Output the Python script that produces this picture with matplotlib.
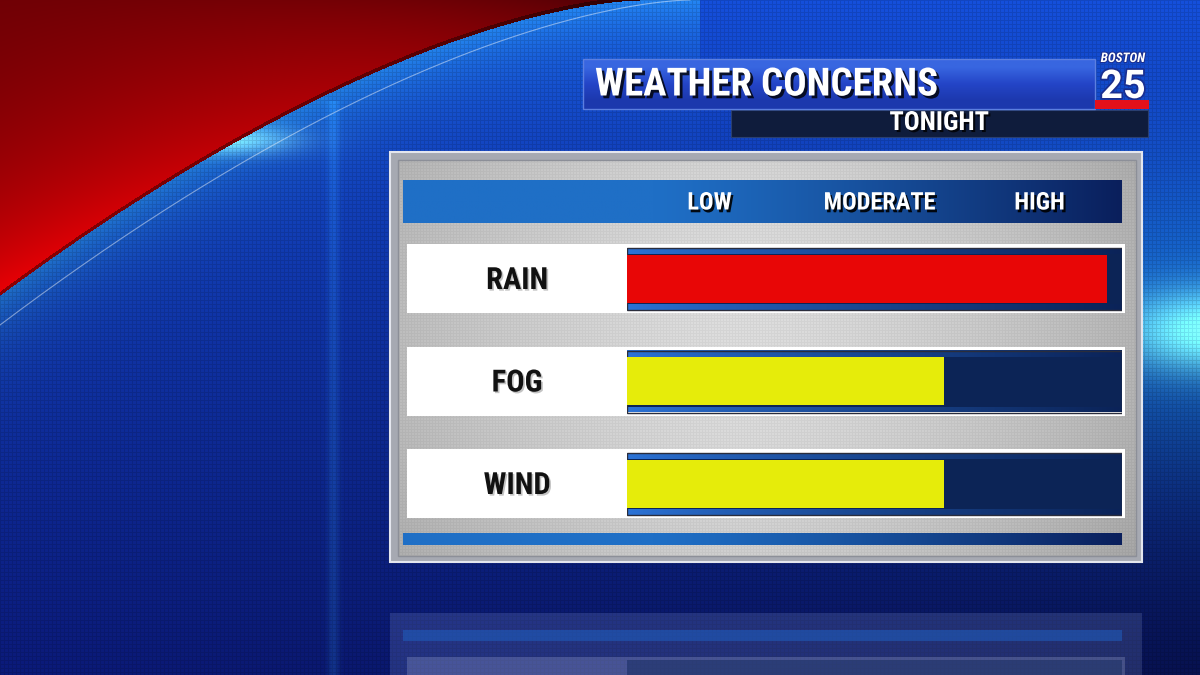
import numpy as np
import matplotlib.pyplot as plt
import matplotlib.colors as mcolors
import matplotlib.patheffects as pe
from matplotlib.patches import Rectangle
from matplotlib.transforms import blended_transform_factory

W, H = 1200, 675

TITLE = "WEATHER CONCERNS"
SUBTITLE = "TONIGHT"
LEVELS = ["LOW", "MODERATE", "HIGH"]
CATEGORIES = ["RAIN", "FOG", "WIND"]
VALUES = [97, 64, 64]          # concern, in % of the LOW..HIGH scale
COLORS = ["#e80606", "#e6ec0a", "#e6ec0a"]

FONT = ["Roboto Condensed", "Barlow Condensed", "Liberation Sans Narrow", "DejaVu Sans"]


def rgb(c):
    return np.array(mcolors.to_rgb(c))


def h_gradient(c0, c1, start=0.0, power=1.0, n=300):
    u = np.linspace(0, 1, n)
    s = np.clip((u - start) / (1 - start), 0, 1) ** power
    img = rgb(c0)[None, :] * (1 - s[:, None]) + rgb(c1)[None, :] * s[:, None]
    return img[None, :, :]


def background():
    yy, xx = np.mgrid[0:H, 0:W].astype(float)
    t = yy / H
    img = np.zeros((H, W, 3))
    img[..., 0] = 0.08 - 0.03 * t
    img[..., 1] = 0.31 - 0.19 * t
    img[..., 2] = 0.86 - 0.30 * t
    # darker towards lower right and lower left
    img *= (1 - 0.45 * (xx / W) * t)[..., None]
    img *= (1 - 0.15 * (1 - xx / W) * t)[..., None]

    # cyan glow on the right edge
    glow = np.exp(-((xx - 1215) ** 2 / (2 * 65 ** 2) + (yy - 330) ** 2 / (2 * 28 ** 2)))
    wide = np.exp(-((xx - 1200) ** 2 / (2 * 220 ** 2) + (yy - 320) ** 2 / (2 * 110 ** 2)))
    img += glow[..., None] * np.array([0.45, 0.7, 0.35])
    img += wide[..., None] * np.array([0.03, 0.22, 0.2])

    # faint vertical streak
    streak = np.exp(-((xx - 333) ** 2) / (2 * 4 ** 2)) * (yy > 100)
    img += streak[..., None] * np.array([0.03, 0.1, 0.1])

    # red swoosh in the top left corner
    u = np.clip(1 - xx / 640, 0, None)
    yb = 295 * u ** 1.6
    yb[xx >= 640] = -1
    d = yb - yy

    below = np.where(d < 0, np.exp(d / 45), 0) * (xx < 700)
    img += below[..., None] * np.array([0.06, 0.22, 0.1])
    spot = np.exp(-((xx - 230) ** 2 / (2 * 45 ** 2) + (yy - 140) ** 2 / (2 * 10 ** 2)))
    img += spot[..., None] * np.array([0.35, 0.45, 0.2])

    rr = 0.34 + 0.58 * np.exp(-d / 170) * (1 - 0.8 * (1 - u)) - 0.16 * (1 - u) * np.exp(-yy / 50)
    red = d > 0
    img[red, 0] = rr[red]
    img[red, 1] = 0.0
    img[red, 2] = 0.02
    edge = (d > 0) & (d < 4)
    img[edge] *= 0.6

    # screen mesh texture
    mesh = (xx % 4 == 0) | (yy % 4 == 0)
    img[mesh & ~red] *= 0.88
    return np.clip(img, 0, 1)


def panel_gray():
    yy, xx = np.mgrid[160:556, 398:1136].astype(float)
    u = (xx - 740) / 400
    v = (yy - 330) / 230
    val = 0.87 - 0.16 * np.abs(u) ** 1.5 - 0.06 * v ** 2
    mesh = (xx % 3 == 0) | (yy % 3 == 0)
    val[mesh] *= 0.96
    return np.repeat(val[..., None], 3, axis=2)


def shadow(alpha=0.7, off=(1.5, -1.5), color="black"):
    return [pe.SimplePatchShadow(offset=off, shadow_rgbFace=color, alpha=alpha), pe.Normal()]


def main():
    fig = plt.figure(figsize=(W / 100, H / 100), dpi=100)
    ax = fig.add_axes([0, 0, 1, 1])
    ax.set_xlim(0, W)
    ax.set_ylim(H, 0)
    ax.axis("off")

    ax.imshow(background(), extent=[0, W, H, 0], aspect="auto", zorder=0)
    xs = np.linspace(0, 690, 200)
    ax.plot(xs, 325 * (1 - xs / 690) ** 1.6, color="white", lw=0.8, alpha=0.45, zorder=0.5)

    # reflection of the panel on the floor
    ax.add_patch(Rectangle((390, 613), 752, 70, facecolor="#8fa0d8", alpha=0.2, zorder=0.6))
    ax.add_patch(Rectangle((403, 630), 719, 11, facecolor="#1f5fc0", alpha=0.55, zorder=0.7))
    ax.add_patch(Rectangle((407, 657), 718, 30, facecolor="#c8d0f0", alpha=0.22, zorder=0.7))
    ax.add_patch(Rectangle((627, 660), 495, 30, facecolor="#0c2358", alpha=0.45, zorder=0.8))

    # title bars
    title_bg = np.array([[0.22, 0.40, 0.88], [0.14, 0.27, 0.78], [0.11, 0.22, 0.68]])
    ax.imshow(title_bg[:, None, :], extent=[583, 1095, 109, 59], aspect="auto",
              interpolation="bilinear", zorder=2)
    ax.add_patch(Rectangle((583, 59), 512, 50, fill=False, edgecolor="#5c7fe0", lw=1, zorder=2.1))
    ax.text(595, 85, TITLE, family=FONT, fontsize=28, fontweight="bold", color="white",
            ha="left", va="center", zorder=3, path_effects=shadow(0.8, (2, -2)))
    ax.add_patch(Rectangle((731, 110), 417, 27, facecolor="#0f1c3c", edgecolor="#2a3f70",
                           lw=0.8, zorder=2))
    ax.text(939, 123, SUBTITLE, family=FONT, fontsize=19, fontweight="bold", color="white",
            ha="center", va="center", zorder=3, path_effects=shadow(0.8))

    # station logo
    ax.text(1123, 58.5, "BOSTON", family=FONT, fontsize=9.5,
            fontweight="bold", style="italic", color="white", ha="center", va="center", zorder=3,
            path_effects=[pe.withStroke(linewidth=1.5, foreground="#1a2f90")])
    ax.text(1123, 98, "25", family=["Roboto", "Liberation Sans", "DejaVu Sans"], fontsize=28.5,
            fontweight="bold", color="white", ha="center", va="baseline", zorder=3,
            path_effects=[pe.withStroke(linewidth=2.5, foreground="#1a2f90")])
    ax.add_patch(Rectangle((1095, 100), 54, 9, facecolor="#e3101b", zorder=3))

    # panel
    ax.add_patch(Rectangle((390, 152), 752, 410, facecolor="#a6a9b2", edgecolor="#e4e6ee",
                           lw=1.5, zorder=1))
    ax.imshow(panel_gray(), extent=[398, 1136, 556, 160], aspect="auto", zorder=1.1)
    ax.add_patch(Rectangle((398, 160), 738, 396, fill=False, edgecolor="#8c8f98", lw=1, zorder=1.2))

    # header and footer stripes
    stripe = h_gradient("#1f6fc6", "#0a1f5c", start=0.35, power=1.2)
    ax.imshow(stripe, extent=[403, 1122, 223, 180], aspect="auto", zorder=1.5)
    ax.imshow(stripe, extent=[403, 1122, 545, 533], aspect="auto", zorder=1.5)

    # bar axes
    top, bottom = 227.25, 534.75
    ax_b = fig.add_axes([627 / W, 1 - bottom / H, 495 / W, (bottom - top) / H])
    ax_b.axis("off")
    ax_b.patch.set_alpha(0)

    y = np.arange(len(CATEGORIES))
    px = 100 / 495            # data units per pixel across
    py = 1 / 102.5            # data units per pixel down

    # white row boxes and tracks
    ax_b.barh(y, 718 * px, left=-220 * px, height=69 * py, color="white", clip_on=False, zorder=1)
    track = h_gradient("#2c74d8", "#0b2358", start=0.0, power=0.8)
    for i in y:
        c = i + 0.5 * py
        ax_b.imshow(track, extent=[0, 100, c + 31 * py, c - 31 * py], aspect="auto", zorder=2)
        ax_b.barh(c, 100, height=50 * py, color="#0c2456", zorder=2.5)
        ax_b.barh(c, 100, height=62 * py, fill=False, edgecolor="#2a2d3c", lw=1, zorder=2.6)
    ax_b.set_xlim(0, 100)
    ax_b.set_ylim(len(CATEGORIES) - 0.5, -0.5)

    ax_b.barh(y, VALUES, height=48 * py, color=COLORS, zorder=3)

    for i, cat in enumerate(CATEGORIES):
        ax_b.text(-110 * px, i + 1.5 * py, cat, family=FONT, fontsize=22, fontweight="bold",
                  color="#111111", ha="center", va="center", zorder=4,
                  path_effects=shadow(0.35, (1.2, -1.2), "#555555"))

    # level labels in the header, over the scale
    tr = blended_transform_factory(ax_b.transData, ax.transData)
    for i, lev in enumerate(LEVELS):
        ax.text((i + 0.5) / len(LEVELS) * 100 + (1 if i == 1 else 0), 203, lev, transform=tr,
                family=FONT, fontsize=17.5, fontweight="bold", color="white", ha="center",
                va="center", zorder=3, path_effects=shadow(0.9, (1.5, -2)))

    fig.savefig("out.png", dpi=100)


if __name__ == "__main__":
    main()
